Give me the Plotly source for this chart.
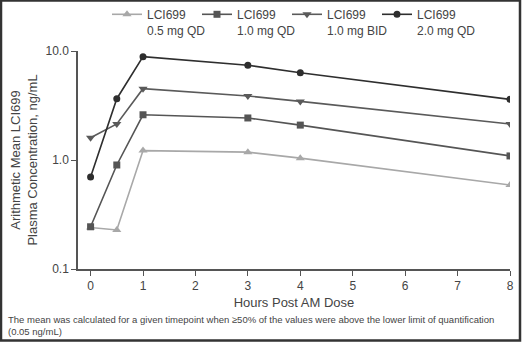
import plotly.graph_objects as go

hours = [0, 0.5, 1, 3, 4, 8]
names = ["LCI699<br>0.5 mg QD", "LCI699<br>1.0 mg QD", "LCI699<br>1.0 mg BID", "LCI699<br>2.0 mg QD"]
conc_05_qd = [0.24, 0.228, 1.22, 1.18, 1.04, 0.59]
conc_10_qd = [0.244, 0.90, 2.6, 2.43, 2.09, 1.09]
conc_10_bid = [1.60, 2.14, 4.51, 3.87, 3.45, 2.14]
conc_20_qd = [0.70, 3.65, 8.87, 7.4, 6.32, 3.6]
y_tickvals = [0.1, 1.0, 10.0]
y_ticktext = ["0.1", "1.0", "10.0"]
x_ticks = [0, 1, 2, 3, 4, 5, 6, 7, 8]

series = [
    (names[0], conc_05_qd, "#a8a8a8", "triangle-up", 8),
    (names[1], conc_10_qd, "#555555", "square", 7),
    (names[2], conc_10_bid, "#5a5a5a", "triangle-down", 8),
    (names[3], conc_20_qd, "#2e2e2e", "circle", 7),
]
legend_ids = ["legend", "legend2", "legend3", "legend4"]

W, H = 522, 342
L, R, T, B = 78, 12, 51, 73
pw, ph = W - L - R, H - T - B

fig = go.Figure()
for (name, vals, col, sym, sz), lg in zip(series, legend_ids):
    fig.add_trace(go.Scatter(
        x=hours, y=vals, name=name, mode="lines+markers",
        line=dict(color=col, width=1.6),
        marker=dict(symbol=sym, size=sz, color=col),
        legend=lg,
    ))

fam = "Arial, Liberation Sans, sans-serif"
leg_common = dict(
    orientation="h", xref="container", yref="container",
    xanchor="left", y=1, yanchor="top",
    font=dict(family=fam, size=12, color="#444444"),
    entrywidth=80, entrywidthmode="pixels", valign="top",
    itemwidth=30, tracegroupgap=0, bgcolor="rgba(0,0,0,0)",
)
legend_layout = {lg: dict(x=(107 + 90 * i) / W, **leg_common) for i, lg in enumerate(legend_ids)}

fig.update_layout(
    width=W, height=H,
    margin=dict(l=L, r=R, t=T, b=B, autoexpand=False),
    paper_bgcolor="white", plot_bgcolor="white",
    font=dict(family=fam, size=12, color="#444444"),
    showlegend=True,
    xaxis=dict(
        range=[-0.24, 8], tickvals=x_ticks, ticks="outside", ticklen=5,
        tickcolor="#555555", showline=True, linecolor="#555555", linewidth=1.5,
        showgrid=False, zeroline=False, automargin=False,
        title=dict(text="Hours Post AM Dose", font=dict(size=13, color="#444444"), standoff=6),
        tickfont=dict(size=12, color="#444444"),
    ),
    yaxis=dict(
        type="log", range=[-1, 1], tickvals=y_tickvals, ticktext=y_ticktext,
        ticks="outside", ticklen=5, tickcolor="#555555", showline=True,
        linecolor="#555555", linewidth=1.5, showgrid=False, zeroline=False, automargin=False,
        title=dict(text="Arithmetic Mean LCI699<br>Plasma Concentration, ng/mL",
                   font=dict(size=13, color="#444444"), standoff=5),
        tickfont=dict(size=12, color="#444444"),
    ),
    annotations=[dict(
        xref="paper", yref="paper", x=-(L - 6) / pw, y=-(312 - (T + ph)) / ph,
        xanchor="left", yanchor="top", align="left", showarrow=False,
        text="The mean was calculated for a given timepoint when \u226550% of the values were above the lower limit of quantification<br>(0.05 ng/mL)",
        font=dict(family=fam, size=9.5, color="#444444"),
    )],
    shapes=[dict(
        type="rect", xref="paper", yref="paper",
        x0=-(L - 1) / pw, x1=1 + (R - 2) / pw, y0=-(B - 1.5) / ph, y1=1 + (T - 0.5) / ph,
        line=dict(color="#333333", width=2.5), fillcolor="rgba(0,0,0,0)", layer="above",
    )],
    **legend_layout,
)

fig.write_html("out.html", config={"displayModeBar": False},
               post_script="document.body.style.margin='0';document.body.style.overflow='hidden';")
